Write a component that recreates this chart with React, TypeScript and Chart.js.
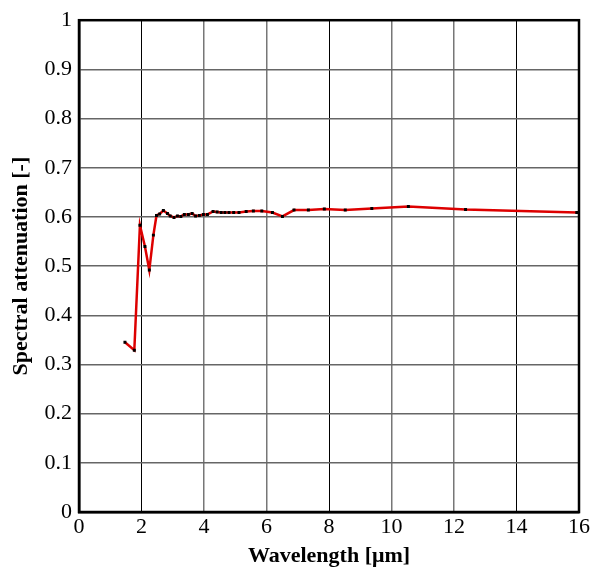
import React, { useEffect, useRef } from "react";
import { Chart, registerables } from "chart.js";

Chart.register(...registerables);

const wavelengths = [
  1.47, 1.77, 1.95, 2.11, 2.25, 2.38, 2.48, 2.58, 2.7, 2.83, 2.92, 3.04, 3.15, 3.26,
  3.37, 3.5, 3.62, 3.73, 3.85, 3.98, 4.11, 4.29, 4.42, 4.55, 4.67, 4.8, 4.95, 5.12,
  5.35, 5.58, 5.85, 6.19, 6.51, 6.88, 7.34, 7.85, 8.52, 9.37, 10.54, 12.37, 15.93,
];
const attenuation = [
  0.345, 0.329, 0.583, 0.54, 0.492, 0.563, 0.603, 0.606, 0.613, 0.607, 0.602, 0.599,
  0.602, 0.601, 0.605, 0.605, 0.607, 0.602, 0.603, 0.605, 0.605, 0.611, 0.61, 0.609,
  0.609, 0.609, 0.609, 0.609, 0.611, 0.612, 0.612, 0.609, 0.601, 0.614, 0.614, 0.616,
  0.614, 0.617, 0.621, 0.615, 0.609,
];
const xTicks = [0, 2, 4, 6, 8, 10, 12, 14, 16];
const yTicks = [0, 0.1, 0.2, 0.3, 0.4, 0.5, 0.6, 0.7, 0.8, 0.9, 1];
const xTitle = "Wavelength [\u03bcm]";
const yTitle = "Spectral attenuation [-]";

const FONT = "'Liberation Serif', 'Times New Roman', serif";

const frame = {
  id: "frame",
  afterDraw(chart: any) {
    const { ctx, chartArea } = chart;
    ctx.save();
    ctx.strokeStyle = "#000";
    ctx.lineWidth = 2.5;
    ctx.strokeRect(
      chartArea.left,
      chartArea.top,
      chartArea.right - chartArea.left,
      chartArea.bottom - chartArea.top
    );
    ctx.restore();
  },
};

export default function App() {
  const ref = useRef<HTMLCanvasElement | null>(null);

  useEffect(() => {
    if (!ref.current) return;
    const data = wavelengths.map((x, i) => ({ x, y: attenuation[i] }));
    const chart = new Chart(ref.current, {
      type: "line",
      data: {
        datasets: [
          {
            data,
            borderColor: "#dd0000",
            borderWidth: 2.5,
            pointStyle: "rect",
            pointRadius: 2.1,
            pointBorderWidth: 0,
            pointBackgroundColor: "#000",
            pointBorderColor: "#000",
            tension: 0,
          },
        ],
      },
      options: {
        responsive: false,
        animation: false,
        devicePixelRatio: 1,
        layout: { padding: { top: 12, right: 15, left: 0, bottom: 0 } },
        plugins: { legend: { display: false }, tooltip: { enabled: false } },
        scales: {
          x: {
            type: "linear",
            min: 0,
            max: 16,
            afterFit: (s: any) => {
              s.height = 61;
            },
            afterBuildTicks: (s: any) => {
              s.ticks = xTicks.map((v) => ({ value: v }));
            },
            ticks: {
              color: "#000",
              padding: 2,
              maxRotation: 0,
              font: { family: FONT, size: 22 },
            },
            grid: {
              drawTicks: false,
              color: (c: any) =>
                [2, 8, 14].includes(c.tick?.value) ? "#000" : "#777",
              lineWidth: (c: any) => ([2, 8, 14].includes(c.tick?.value) ? 1 : 1.5),
            },
            border: { display: true, color: "#000", width: 2.5 },
            title: {
              display: true,
              text: xTitle,
              color: "#000",
              padding: { top: 0, bottom: 3 },
              font: { family: FONT, size: 22, weight: "bold" },
            },
          },
          y: {
            type: "linear",
            min: 0,
            max: 1,
            afterFit: (s: any) => {
              s.width = 79;
            },
            afterBuildTicks: (s: any) => {
              s.ticks = yTicks.map((v) => ({ value: v }));
            },
            ticks: {
              color: "#000",
              padding: 7,
              font: { family: FONT, size: 22 },
              callback: (v: any) => String(Math.round(Number(v) * 10) / 10),
            },
            grid: {
              drawTicks: false,
              color: "#666",
              lineWidth: 1.5,
            },
            border: { display: true, color: "#000", width: 2.5 },
            title: {
              display: true,
              text: yTitle,
              color: "#000",
              padding: { top: 8, bottom: 0 },
              font: { family: FONT, size: 22, weight: "bold" },
            },
          },
        },
      },
      plugins: [frame],
    });
    return () => chart.destroy();
  }, []);

  return (
    <div style={{ position: "fixed", left: 0, top: 0, width: 594, height: 573, background: "#fff" }}>
      <canvas ref={ref} width={594} height={573} style={{ display: "block" }} />
    </div>
  );
}
